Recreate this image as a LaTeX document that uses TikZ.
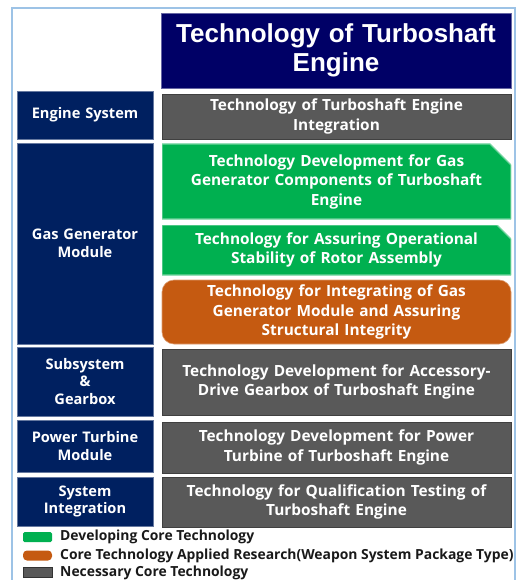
\documentclass[tikz,border=0pt]{standalone}
\usepackage{fontspec}
\setmainfont{Open Sans}
\newfontfamily\titlefont{Liberation Sans}
\usetikzlibrary{shapes.misc}

\definecolor{titleblue}{RGB}{0,0,102}
\definecolor{modblue}{RGB}{0,32,96}
\definecolor{necgray}{RGB}{89,89,89}
\definecolor{devgreen}{RGB}{0,176,80}
\definecolor{appliedorange}{RGB}{197,90,17}
\definecolor{framblue}{RGB}{157,195,230}

\tikzset{
    box/.style={inner sep=0pt, align=center, text=white,
        font=\bfseries\fontsize{15.4}{19.5}\selectfont},
    modbox/.style={box, fill=modblue, draw=modblue!60!white, line width=0.6pt,
        minimum width=136pt, text width=130pt,
        font=\bfseries\fontsize{14.6}{17.5}\selectfont},
    techbox/.style={box, minimum width=349pt, text width=345pt},
    necbox/.style={techbox, fill=necgray, draw=black!75, line width=0.8pt},
    % green boxes: top right corner cut off by #1
    devbox/.style={techbox, path picture={
        \filldraw[fill=devgreen, draw=devgreen!55!white, line width=1.2pt]
            (path picture bounding box.south west)
            -- (path picture bounding box.north west)
            -- ([xshift=-#1]path picture bounding box.north east)
            -- ([yshift=-#1]path picture bounding box.north east)
            -- (path picture bounding box.south east) -- cycle;}},
    appbox/.style={techbox, rounded corners=12pt, fill=appliedorange,
        draw=appliedorange!60!white, line width=0.6pt},
    swatch/.style={minimum width=29pt, minimum height=10pt, inner sep=0pt},
    legtext/.style={anchor=west, inner sep=0pt, text=black!90,
        font=\bfseries\fontsize{13.9}{16}\selectfont}
}

\begin{document}
\begin{tikzpicture}[x=1pt, y=-1pt]
    \useasboundingbox (0,0) rectangle (519,580);
    % Outer frame
    \draw[framblue, line width=1.5pt] (12,8) rectangle (515,600);

    % Title
    \node[box, fill=titleblue, draw=titleblue!60!white, line width=0.6pt,
        minimum width=350pt, minimum height=75pt, text width=345pt,
        font=\titlefont\bfseries\fontsize{26}{29.5}\selectfont]
        (title) at (336,50.5) {Technology of Turboshaft\\Engine};

    % Module column
    \node[modbox, minimum height=48pt] (engsys) at (85,115) {Engine System};
    \node[modbox, minimum height=201pt] (gasgen) at (85,243.5) {Gas Generator\\Module};
    \node[modbox, minimum height=69pt] (subsys) at (85,381.5) {Subsystem\\\&\\Gearbox};
    \node[modbox, minimum height=52pt] (powtur) at (85,446) {Power Turbine\\Module};
    \node[modbox, minimum height=49pt] (sysint) at (85,501.5) {System\\Integration};

    % Technology column
    \node[necbox, minimum height=45pt] (integ) at (336.5,116.5)
        {Technology of Turboshaft Engine\\Integration};
    \node[devbox=21pt, minimum height=75pt] (ggcomp) at (336.5,181.5)
        {Technology Development for Gas\\Generator Components of Turboshaft\\Engine};
    \node[devbox=14pt, minimum height=50pt] (rotor) at (336.5,250)
        {Technology for Assuring Operational\\Stability of Rotor Assembly};
    \node[appbox, minimum height=64pt] (ggint) at (336.5,312)
        {Technology for Integrating of Gas\\Generator Module and Assuring\\Structural Integrity};
    \node[necbox, minimum height=66pt] (gearbox) at (336.5,382)
        {Technology Development for Accessory-\\Drive Gearbox of Turboshaft Engine};
    \node[necbox, minimum height=51pt] (powdev) at (336.5,447.5)
        {Technology Development for Power\\Turbine of Turboshaft Engine};
    \node[necbox, minimum height=50pt] (qualtest) at (336.5,502)
        {Technology for Qualification Testing of\\Turboshaft Engine};

    % Legend
    \node[swatch, fill=devgreen, rounded corners=1.5pt] (keydev) at (37.5,537) {};
    \node[swatch, fill=appliedorange, rounded corners=4pt] (keyapp) at (37.5,555.5) {};
    \node[swatch, fill=necgray, draw=black!80, line width=0.8pt] (keynec) at (37.5,572.5) {};
    \node[legtext] (lbldev) at (60,537) {Developing Core Technology};
    \node[legtext] (lblapp) at (60,555.5) {Core Technology Applied Research(Weapon System Package Type)};
    \node[legtext] (lblnec) at (60,572.5) {Necessary Core Technology};
\end{tikzpicture}
\end{document}
